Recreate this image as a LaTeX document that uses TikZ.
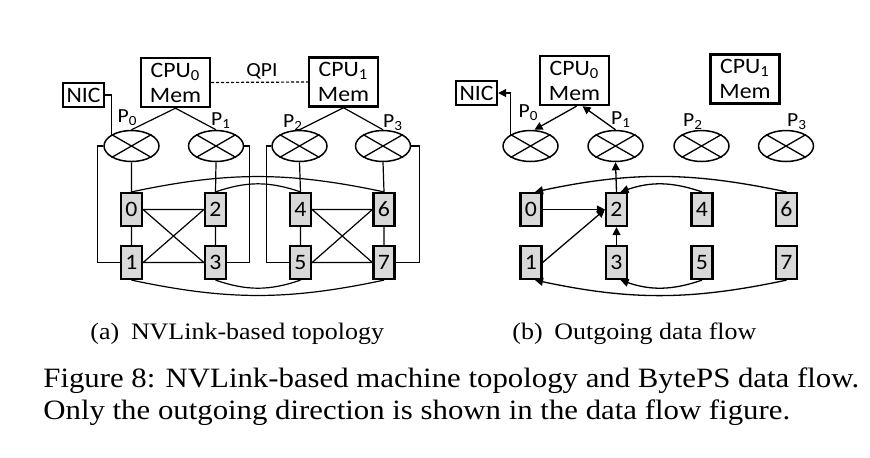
\documentclass[tikz,border=0pt]{standalone}
\usepackage{fontspec}
\setmainfont{Liberation Serif}[FakeStretch=1.1]
\newfontfamily\visio{Carlito}[FakeStretch=1.08]
\usetikzlibrary{shapes.geometric,arrows.meta}
\definecolor{gpufill}{HTML}{D9D9D9}

\begin{document}
\begin{tikzpicture}[x=0.5pt,y=0.5pt,
    box/.style={draw,line width=1.2pt,inner sep=0pt,align=center,font=\visio\fontsize{11}{12.5}\selectfont},
    gpu/.style={draw,line width=1.1pt,fill=gpufill,minimum width=10.5pt,minimum height=16.5pt,inner sep=0pt,font=\visio\fontsize{11}{12}\selectfont},
    port/.style={ellipse,draw,line width=0.75pt,minimum width=27.5pt,minimum height=15.5pt,inner sep=0pt},
    plabel/.style={inner sep=0pt,font=\visio\fontsize{10}{11}\selectfont},
    link/.style={line width=0.6pt},
    flow/.style={line width=0.65pt,-{Triangle[length=4pt,width=4pt]}},
    captext/.style={anchor=base west,inner sep=0pt}]
    \path[fill=white,use as bounding box] (0,0) rectangle (870,-457);

    % (a) topology
    \node[box,minimum width=20.5pt,minimum height=12pt] (nicA) at (83.5,-95) {NIC};
    \node[box,minimum width=34.5pt,minimum height=24.5pt] (cpuA0) at (175.5,-82.5) {CPU\textsubscript{0}\\Mem};
    \node[box,minimum width=34.5pt,minimum height=24.5pt] (cpuA1) at (343.5,-82) {CPU\textsubscript{1}\\Mem};
    \node[inner sep=0pt,font=\visio\fontsize{10}{11}\selectfont] (qpi) at (262,-71) {QPI};
    \foreach \n/\x in {0/131.5,1/216,2/299.5,3/383}
        \node[port] (pA\n) at (\x,-146) {};
    \node[plabel] (lA0) at (127.5,-118) {P\textsubscript{0}};
    \node[plabel] (lA1) at (221,-121) {P\textsubscript{1}};
    \node[plabel] (lA2) at (293,-123) {P\textsubscript{2}};
    \node[plabel] (lA3) at (393,-123) {P\textsubscript{3}};
    \foreach \n/\x/\y in {0/131.5/209.5,1/131.5/262.5,2/215.5/209.5,3/215.5/262.5,4/300.5/209.5,5/300.5/262.5,6/384/209.5,7/384/262.5}
        \node[gpu] (gA\n) at (\x,-\y) {\n};

    \draw[link] (nicA.east) -| (pA0.north west);
    \draw[link,dash pattern=on 1.5pt off 1pt] (cpuA0.east) -- (cpuA1.west);
    \draw[link] (cpuA0.south) -- (pA0.north) (cpuA0.south) -- (pA1.north)
        (cpuA1.south) -- (pA2.north) (cpuA1.south) -- (pA3.north);
    \draw[link] (pA0.south) -- (gA0.north) (pA1.south) -- (gA2.north)
        (pA2.south) -- (gA4.north) (pA3.south) -- (gA6.north);
    \draw[link] (pA0.west) -- ++(-6,0) |- (gA1.west);
    \draw[link] (pA1.east) -- ++(5,0) |- (gA3.east);
    \draw[link] (pA2.west) -- ++(-5,0) |- (gA5.west);
    \draw[link] (pA3.east) -- ++(8,0) |- (gA7.east);
    \draw[link] (gA0) -- (gA1) (gA2) -- (gA3) (gA0) -- (gA2) (gA1) -- (gA3)
        (gA0.east) -- (gA3.west) (gA1.east) -- (gA2.west);
    \draw[link] (gA4) -- (gA5) (gA6) -- (gA7) (gA4) -- (gA6) (gA5) -- (gA7)
        (gA4.east) -- (gA7.west) (gA5.east) -- (gA6.west);
    \draw[link] (gA0.north) to[bend left=12] (gA6.north);
    \draw[link] (gA2.north) to[bend left=19] (gA4.north);
    \draw[link] (gA1.south) to[bend right=12] (gA7.south);
    \draw[link] (gA3.south) to[bend right=19] (gA5.south);

    % (b) outgoing flow
    \node[box,minimum width=20.5pt,minimum height=12pt] (nicB) at (476.5,-93) {NIC};
    \node[box,minimum width=34.5pt,minimum height=24.5pt] (cpuB0) at (574.5,-80.5) {CPU\textsubscript{0}\\Mem};
    \node[box,minimum width=34.5pt,minimum height=24.5pt] (cpuB1) at (745,-79) {CPU\textsubscript{1}\\Mem};
    \foreach \n/\x in {0/530.5,1/615.5,2/701.5,3/786}
        \node[port] (pB\n) at (\x,-146) {};
    \node[plabel] (lB0) at (528.5,-113) {P\textsubscript{0}};
    \node[plabel] (lB1) at (621,-120) {P\textsubscript{1}};
    \node[plabel] (lB2) at (693,-122) {P\textsubscript{2}};
    \node[plabel] (lB3) at (797,-122) {P\textsubscript{3}};
    \foreach \n/\x/\y in {0/531/209.5,1/531/262.5,2/616.5/209.5,3/616.5/262.5,4/702/209.5,5/702/262.5,6/786.5/209.5,7/786.5/262.5}
        \node[gpu] (gB\n) at (\x,-\y) {\n};

    \draw[flow] (pB0.north west) |- (nicB.east);
    \draw[flow] ([xshift=1pt]cpuB0.south) -- ([xshift=2pt]pB0.north);
    \draw[flow] (pB1.north) -- ([xshift=4pt]cpuB0.south);
    \draw[flow] (gB2.north) -- (pB1.south);
    \draw[flow] (gB0.east) -- (gB2.west);
    \draw[flow] (gB1.east) -- (gB2.west);
    \draw[flow] (gB3.north) -- (gB2.south);
    \draw[flow] (gB6.north) to[bend right=12] ([xshift=2pt]gB0.north);
    \draw[flow] (gB4.north) to[bend right=19] ([xshift=2pt]gB2.north);
    \draw[flow] (gB7.south) to[bend left=12] ([xshift=2pt]gB1.south);
    \draw[flow] (gB5.south) to[bend left=19] ([xshift=2pt]gB3.south);

    % crosses in the ports
    \foreach \n in {pA0,pA1,pA2,pA3,pB0,pB1,pB2,pB3}
        \draw[line width=0.65pt] (\n.north west) -- (\n.south east) (\n.north east) -- (\n.south west);

    % captions
    \node[captext,font=\fontsize{11.8}{13}\selectfont] (capA) at (90,-339) {(a)\enspace NVLink-based topology};
    \node[captext,font=\fontsize{11.8}{13}\selectfont] (capB) at (512,-339) {(b)\enspace Outgoing data flow};
    \node[captext,font=\fontsize{14}{16}\selectfont] (figA) at (43,-387) {Figure 8: NVLink-based machine topology and BytePS data flow.};
    \node[captext,font=\fontsize{14}{16}\selectfont] (figB) at (43,-419) {Only the outgoing direction is shown in the data flow figure.};
\end{tikzpicture}
\end{document}
